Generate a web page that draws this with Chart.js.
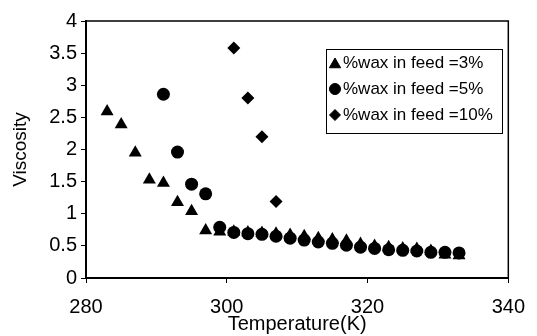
<!DOCTYPE html>
<html>
<head>
<meta charset="utf-8">
<script src="https://cdn.jsdelivr.net/npm/chart.js@4/dist/chart.umd.min.js"></script>
<style>
    html, body { margin: 0; padding: 0; background: #fff; }
    #wrap { width: 537px; height: 336px; }
</style>
</head>
<body>
<div id="wrap"><canvas id="chart"></canvas></div>
<script>
// Viscosity vs temperature for three wax contents
const temps3 = [283, 285, 287, 289, 291, 293, 295, 297, 299, 301, 303, 305, 307, 309, 311, 313, 315, 317, 319, 321, 323, 325, 327, 329, 331, 333];
const visc3 = [2.59, 2.39, 1.95, 1.53, 1.48, 1.18, 1.04, 0.74, 0.72, 0.72, 0.71, 0.70, 0.69, 0.67, 0.65, 0.62, 0.60, 0.58, 0.53, 0.50, 0.48, 0.46, 0.45, 0.42, 0.36, 0.35];

const temps5 = [291, 293, 295, 297, 299, 301, 303, 305, 307, 309, 311, 313, 315, 317, 319, 321, 323, 325, 327, 329, 331, 333];
const visc5 = [2.86, 1.96, 1.46, 1.31, 0.79, 0.71, 0.69, 0.68, 0.65, 0.62, 0.59, 0.56, 0.54, 0.51, 0.48, 0.46, 0.44, 0.43, 0.42, 0.40, 0.40, 0.39];

const temps10 = [301, 303, 305, 307];
const visc10 = [3.58, 2.80, 2.20, 1.19];

const seriesLabels = ['%wax in feed =3%', '%wax in feed =5%', '%wax in feed =10%'];

const xTicks = [280, 300, 320, 340];
const yTicks = [0, 0.5, 1, 1.5, 2, 2.5, 3, 3.5, 4];

const FONT = "'Liberation Sans', Arial, sans-serif";

function toPoints(xs, ys) {
    return xs.map((x, i) => ({ x: x, y: ys[i] }));
}

// Frame around the plot area (top and right edges too)
const framePlugin = {
    id: 'frame',
    beforeDatasetsDraw(chart) {
        const { ctx, chartArea: a } = chart;
        ctx.save();
        ctx.strokeStyle = '#000';
        ctx.lineWidth = 1.5;
        ctx.strokeRect(a.left, a.top, a.right - a.left, a.bottom - a.top);
        ctx.restore();
    }
};

// Boxed legend sitting inside the plot area
const boxLegendPlugin = {
    id: 'boxLegend',
    afterDraw(chart) {
        const { ctx } = chart;
        const left = 326, top = 49, width = 176, height = 84;
        ctx.save();
        ctx.fillStyle = '#fff';
        ctx.fillRect(left, top, width, height);
        ctx.strokeStyle = '#000';
        ctx.lineWidth = 1;
        ctx.strokeRect(left + 0.5, top + 0.5, width, height);

        ctx.font = '17px ' + FONT;
        ctx.textBaseline = 'middle';
        chart.data.datasets.forEach((ds, i) => {
            const y = top + 14 + i * 26;
            const style = {
                pointStyle: ds.pointStyle,
                radius: ds.pointStyle === 'triangle' ? 6.5 : 5.5,
                rotation: 0,
                borderWidth: 1
            };
            ctx.fillStyle = '#000';
            ctx.strokeStyle = '#000';
            Chart.helpers.drawPoint(ctx, style, left + 9, ds.pointStyle === 'triangle' ? y + 1.5 : y);
            ctx.fillStyle = '#000';
            ctx.fillText(ds.label, left + 17, y);
        });
        ctx.restore();
    }
};

new Chart(document.getElementById('chart'), {
    type: 'scatter',
    data: {
        datasets: [
            {
                label: seriesLabels[0],
                data: toPoints(temps3, visc3),
                pointStyle: 'triangle',
                pointRadius: 7.5,
                backgroundColor: '#000',
                borderColor: '#000',
                borderWidth: 0
            },
            {
                label: seriesLabels[1],
                data: toPoints(temps5, visc5),
                pointStyle: 'circle',
                pointRadius: 6.5,
                backgroundColor: '#000',
                borderColor: '#000',
                borderWidth: 0
            },
            {
                label: seriesLabels[2],
                data: toPoints(temps10, visc10),
                pointStyle: 'rectRot',
                pointRadius: 6.5,
                backgroundColor: '#000',
                borderColor: '#000',
                borderWidth: 0
            }
        ]
    },
    options: {
        responsive: true,
        maintainAspectRatio: false,
        animation: false,
        layout: { padding: { top: 21, right: 17, left: 0, bottom: 0 } },
        plugins: {
            legend: { display: false },
            tooltip: { enabled: false }
        },
        scales: {
            x: {
                type: 'linear',
                min: 280,
                max: 340,
                afterBuildTicks: (scale) => { scale.ticks = xTicks.map(v => ({ value: v })); },
                afterFit: (scale) => { scale.height = 58; },
                grid: { drawOnChartArea: false, drawTicks: true, tickLength: 5, color: '#000', lineWidth: 1 },
                border: { display: true, color: '#000', width: 2 },
                ticks: { color: '#000', padding: 12, font: { family: FONT, size: 20 }, maxRotation: 0 },
                title: {
                    display: true,
                    text: 'Temperature(K)',
                    color: '#000',
                    font: { family: FONT, size: 20 },
                    padding: { top: 0, bottom: 0 }
                }
            },
            y: {
                type: 'linear',
                min: 0,
                max: 4,
                afterBuildTicks: (scale) => { scale.ticks = yTicks.map(v => ({ value: v })); },
                afterFit: (scale) => { scale.width = 86; },
                grid: { drawOnChartArea: false, drawTicks: true, tickLength: 5, color: '#000', lineWidth: 1 },
                border: { display: true, color: '#000', width: 2 },
                ticks: {
                    color: '#000',
                    padding: 4,
                    font: { family: FONT, size: 20 },
                    callback: (v) => String(v)
                },
                title: {
                    display: true,
                    text: 'Viscosity',
                    color: '#000',
                    font: { family: FONT, size: 19 },
                    padding: { top: 9, bottom: 0 }
                }
            }
        }
    },
    plugins: [framePlugin, boxLegendPlugin]
});
</script>
</body>
</html>
